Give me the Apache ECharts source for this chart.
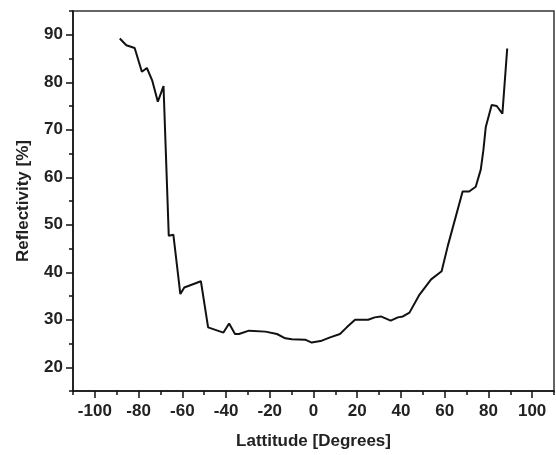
<!DOCTYPE html>
<html>
<head>
<meta charset="utf-8">
<script src="https://cdn.jsdelivr.net/npm/echarts@6/dist/echarts.min.js"></script>
<style>html,body{margin:0;padding:0;background:#fff}#c{width:556px;height:455px}</style>
</head>
<body>
<div id="c"></div>
<script>
var latitude = [-88.6,-85.6,-81.8,-78.5,-76.2,-73.8,-71.2,-68.6,-66.2,-64.1,-60.9,-59.1,-51.5,-48.2,-41.2,-38.6,-35.9,-34.1,-29.5,-22.0,-16.7,-12.9,-9.9,-3.8,-0.8,3.8,7.6,12.1,15.2,19.0,25.0,28.0,30.8,35.3,38.6,40.9,43.9,48.5,53.8,58.6,61.4,68.2,71.2,74.2,76.5,77.7,78.8,81.5,83.8,86.4,88.6];
var reflectivity = [89.2,87.8,87.2,82.2,83.0,80.4,75.9,79.2,47.7,47.9,35.4,36.8,38.1,28.4,27.3,29.2,27.0,27.0,27.7,27.5,27.0,26.1,25.9,25.8,25.2,25.6,26.3,27.0,28.4,30.0,30.0,30.5,30.7,29.8,30.5,30.7,31.5,35.3,38.5,40.2,45.5,57.0,57.0,58.0,61.6,65.7,70.6,75.2,75.0,73.4,87.1];
var xTicks = [-100,-80,-60,-40,-20,0,20,40,60,80,100];
var xMinorTicks = [-110,-90,-70,-50,-30,-10,10,30,50,70,90,110];
var yTicks = [20,30,40,50,60,70,80,90];
var yMinorTicks = [15,25,35,45,55,65,75,85,95];

var data = latitude.map(function(v,i){return [v, reflectivity[i]];});
var font = '"Liberation Sans", Arial, sans-serif';
var labelStyle = {fontFamily: font, fontWeight: 'bold', fontSize: 17, color: '#222'};
var chart = echarts.init(document.getElementById('c'));
chart.setOption({
  animation: false,
  backgroundColor: '#fff',
  grid: {left: 73, right: 2, top: 11, bottom: 63, show: true, borderColor: '#333', borderWidth: 1.5, backgroundColor: 'transparent'},
  xAxis: [{
    type: 'value', min: -110, max: 110, interval: 10,
    name: 'Lattitude [Degrees]', nameLocation: 'middle', nameGap: 42,
    nameTextStyle: {fontFamily: font, fontWeight: 'bold', fontSize: 17, color: '#222'},
    axisLine: {show: true, onZero: false, lineStyle: {color: '#111', width: 1.5}},
    axisTick: {show: true, length: 7, customValues: xTicks, lineStyle: {color: '#111', width: 1.5}},
    axisLabel: Object.assign({margin: 12, customValues: xTicks}, labelStyle),
    splitLine: {show: false}
  }, {
    type: 'value', min: -110, max: 110, interval: 10, position: 'bottom', offset: 0,
    axisLine: {show: false, onZero: false},
    axisTick: {show: true, length: 4, customValues: xMinorTicks, lineStyle: {color: '#111', width: 1.5}},
    axisLabel: {show: false},
    splitLine: {show: false}
  }],
  yAxis: [{
    type: 'value', min: 15, max: 95, interval: 5,
    name: 'Reflectivity [%]', nameLocation: 'middle', nameGap: 41,
    nameTextStyle: {fontFamily: font, fontWeight: 'bold', fontSize: 17, color: '#222'},
    axisLine: {show: true, onZero: false, lineStyle: {color: '#111', width: 1.5}},
    axisTick: {show: true, length: 7, customValues: yTicks, lineStyle: {color: '#111', width: 1.5}},
    axisLabel: Object.assign({margin: 10, customValues: yTicks}, labelStyle),
    splitLine: {show: false}
  }, {
    type: 'value', min: 15, max: 95, interval: 5, position: 'left', offset: 0,
    axisLine: {show: false, onZero: false},
    axisTick: {show: true, length: 4, customValues: yMinorTicks, lineStyle: {color: '#111', width: 1.5}},
    axisLabel: {show: false},
    splitLine: {show: false}
  }],
  series: [{
    type: 'line', data: data, showSymbol: false, symbol: 'none',
    lineStyle: {color: '#111', width: 2}
  }]
});
</script>
</body>
</html>
